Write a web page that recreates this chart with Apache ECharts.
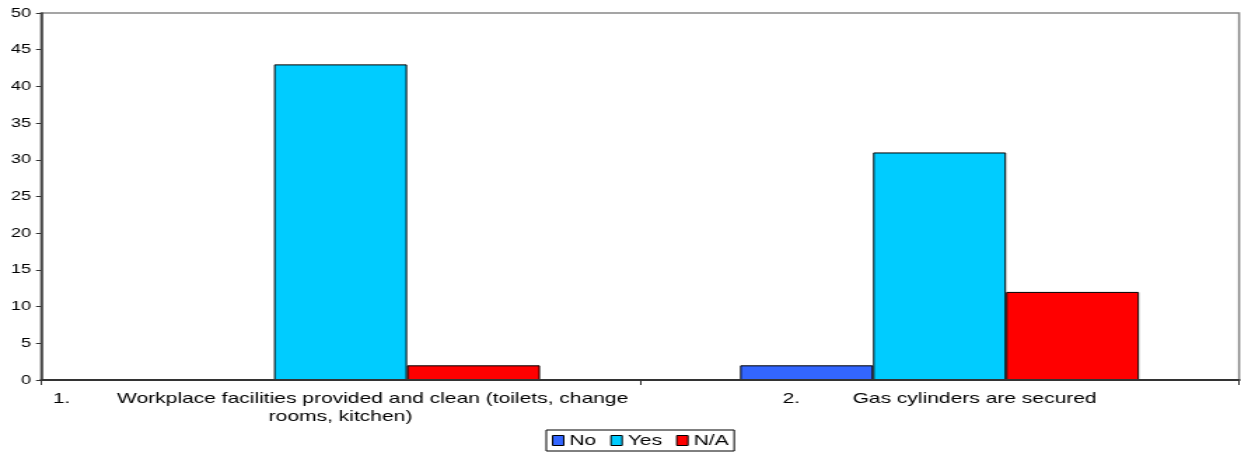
<!DOCTYPE html>
<html>
<head>
<meta charset="utf-8">
<script src="https://cdn.jsdelivr.net/npm/echarts@6/dist/echarts.min.js"></script>
<style>
html,body{margin:0;padding:0;background:#fff;overflow:hidden;}
#wrap{width:1241px;height:453px;overflow:hidden;}
#c{width:886px;height:453px;transform:scaleX(1.40068);transform-origin:0 0;}
</style>
</head>
<body>
<div id="wrap"><div id="c"></div></div>
<script>
const categories = [
  "1.        Workplace facilities provided and clean (toilets, change\nrooms, kitchen)",
  "2.         Gas cylinders are secured"
];
const seriesNames = ["No", "Yes", "N/A"];
const noValues = [0, 2];
const yesValues = [43, 31];
const naValues = [2, 12];
const yTicks = [0, 5, 10, 15, 20, 25, 30, 35, 40, 45, 50];
const colors = ["#3366FF", "#00CCFF", "#FF0000"];

const chart = echarts.init(document.getElementById('c'), null, {renderer: 'canvas'});
const font = '"Liberation Sans", Arial, sans-serif';
const values = [noValues, yesValues, naValues];
chart.setOption({
  animation: false,
  backgroundColor: '#fff',
  grid: {left: 29.3, right: 1.4, top: 13, bottom: 73, show: true, borderColor: '#888', borderWidth: 1.5, backgroundColor: 'transparent'},
  legend: {
    bottom: 2, left: 390,
    data: seriesNames,
    itemWidth: 8, itemHeight: 10, itemGap: 10,
    borderColor: '#000', borderWidth: 1, padding: [3, 4, 3, 4],
    icon: 'rect',
    textStyle: {fontFamily: font, fontSize: 15, color: '#000', padding: [0, 0, 0, -1]},
    itemStyle: {borderColor: '#000', borderWidth: 1}
  },
  xAxis: {
    type: 'category', data: categories, z: 3,
    axisLine: {lineStyle: {color: '#333', width: 2}},
    axisTick: {show: true, alignWithLabel: false, length: 5, lineStyle: {color: '#333'}},
    axisLabel: {fontFamily: font, fontSize: 15, color: '#000', margin: 10, lineHeight: 18, interval: 0}
  },
  yAxis: {
    type: 'value', min: 0, max: 50, interval: 5,
    axisLine: {show: true, lineStyle: {color: '#333', width: 1.5}},
    axisTick: {show: true, length: 3.6, lineStyle: {color: '#333'}},
    splitLine: {show: false},
    axisLabel: {fontFamily: font, fontSize: 13, color: '#000', margin: 7,
      formatter: v => yTicks.includes(v) ? String(v) : ''}
  },
  series: seriesNames.map((n, i) => ({
    name: n, type: 'bar', data: values[i],
    barGap: '0%', barCategoryGap: '33.4%',
    itemStyle: {color: colors[i], borderColor: '#000', borderWidth: 1}
  }))
});
</script>
</body>
</html>
